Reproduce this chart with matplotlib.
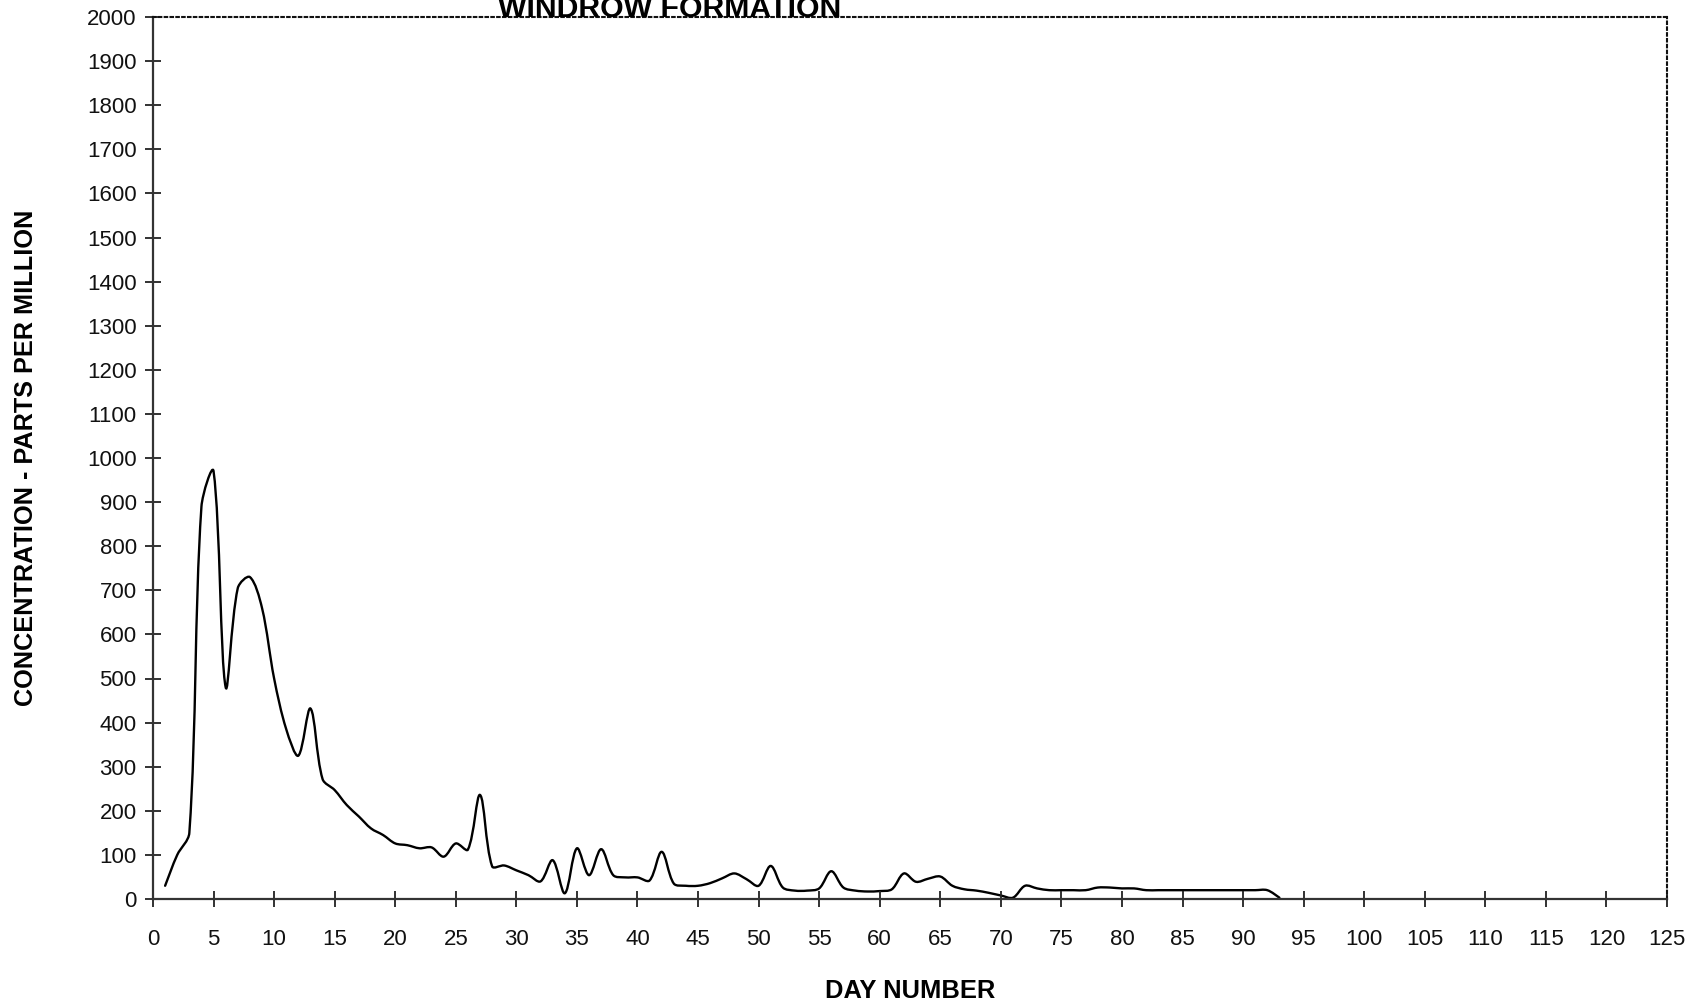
import numpy as np
import matplotlib
matplotlib.use("Agg")
import matplotlib.pyplot as plt
from matplotlib.path import Path
from matplotlib.patches import PathPatch

plt.rcParams['font.family'] = ['Liberation Sans', 'DejaVu Sans']

# Daily concentration readings (ppm)
days = list(range(1, 94))
ppm = [30, 100, 150, 890, 970, 480, 705, 730, 660, 500,
       385, 325, 432, 272, 247, 213, 187, 160, 145, 126,
       122, 115, 117, 96, 126, 112, 236, 74, 76, 65,
       54, 40, 88, 13, 115, 54, 113, 54, 49, 49,
       42, 107, 35, 30, 30, 36, 47, 58, 45, 30,
       75, 26, 19, 19, 24, 63, 26, 19, 17, 18,
       22, 58, 39, 46, 51, 30, 22, 19, 14, 8,
       3, 30, 24, 20, 20, 20, 20, 26, 26, 24,
       24, 20, 20, 20, 20, 20, 20, 20, 20, 20,
       20, 20, 3]

x_ticks = list(range(0, 126, 5))
y_ticks = list(range(0, 2001, 100))

title = "WINDROW FORMATION"
x_label = "DAY NUMBER"
y_label = "CONCENTRATION - PARTS PER MILLION"

W, H = 1698, 1001
fig = plt.figure(figsize=(W / 100, H / 100), dpi=100)
left, right, top, bottom = 153, 1667, 17, 899
ax = fig.add_axes([left / W, 1 - bottom / H, (right - left) / W, (bottom - top) / H])

ax.set_xlim(0, 125)
ax.set_ylim(0, 2000)
ax.set_xticks(x_ticks)
ax.set_yticks(y_ticks)
ax.set_xticklabels([str(t) for t in x_ticks])
ax.set_yticklabels([str(t) for t in y_ticks])

ax.tick_params(axis='both', direction='inout', length=11.5, width=1.3,
               labelsize=16, color='#222222', labelcolor='#111111')
ax.tick_params(axis='x', pad=16)
ax.tick_params(axis='y', pad=6)

for side in ('left', 'bottom'):
    ax.spines[side].set_linewidth(1.6)
    ax.spines[side].set_color('#333333')
for side in ('top', 'right'):
    ax.spines[side].set_linestyle((0, (1.2, 1.6)))
    ax.spines[side].set_linewidth(1.5)
    ax.spines[side].set_color('#111111')

# Smoothed line through the readings: cubic Bezier segments whose
# control arms are weighted by the on-screen lengths of adjacent segments
x_data = np.asarray(days, dtype=float)
y_data = np.asarray(ppm, dtype=float)
bbox = ax.get_window_extent()
sx = bbox.width / (ax.get_xlim()[1] - ax.get_xlim()[0])
sy = bbox.height / (ax.get_ylim()[1] - ax.get_ylim()[0])
Q = np.column_stack([x_data * sx, y_data * sy])
n = len(Q)
seg = np.linalg.norm(np.diff(Q, axis=0), axis=1)
T = np.empty_like(Q)
T[1:-1] = Q[2:] - Q[:-2]
T[0] = Q[1] - Q[0]
T[-1] = Q[-1] - Q[-2]
k = 1.0 / 3.0
verts = [tuple(Q[0])]
codes = [Path.MOVETO]
for i in range(n - 1):
    d_prev = seg[i - 1] if i > 0 else seg[i]
    d_next = seg[i + 1] if i + 1 < n - 1 else seg[i]
    w1 = seg[i] / (d_prev + seg[i]) if i > 0 else 0.5
    w2 = seg[i] / (seg[i] + d_next) if i + 1 < n - 1 else 0.5
    c1 = Q[i] + T[i] * k * w1
    c2 = Q[i + 1] - T[i + 1] * k * w2
    verts += [tuple(c1), tuple(c2), tuple(Q[i + 1])]
    codes += [Path.CURVE4] * 3
verts = np.array(verts) / np.array([sx, sy])
curve = PathPatch(Path(verts, codes), fill=False, edgecolor='black',
                  linewidth=1.7, transform=ax.transData, clip_on=False,
                  joinstyle='round', capstyle='round')
ax.add_patch(curve)

fig.text(670 / W, 1 - 17 / H, title, ha='center', va='baseline',
         fontsize=21.8, fontweight='bold', color='black')
fig.text(910 / W, 1 - 991 / H, x_label, ha='center', va='center',
         fontsize=18.4, fontweight='bold', color='black')
fig.text(26 / W, 1 - 458 / H, y_label, ha='center', va='center',
         rotation=90, fontsize=18.2, fontweight='bold', color='black')

fig.savefig("out.png", dpi=100, facecolor='white')
